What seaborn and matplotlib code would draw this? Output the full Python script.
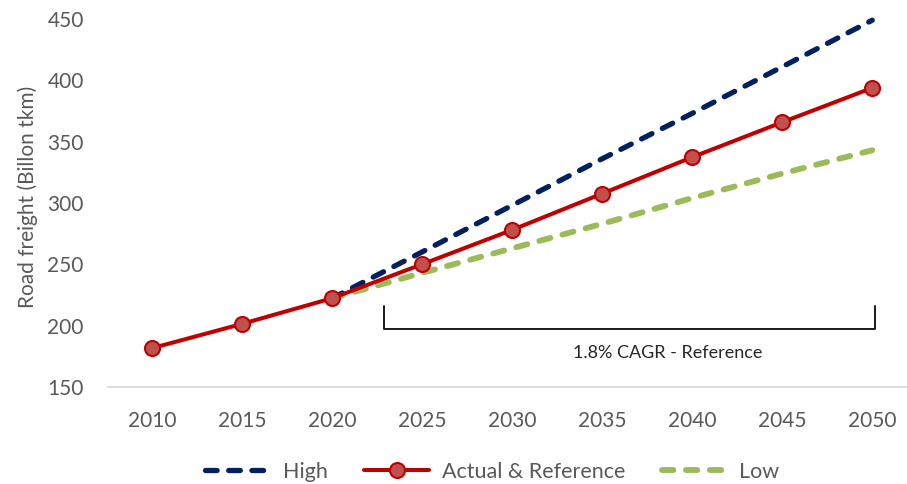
import matplotlib
matplotlib.use("Agg")
import matplotlib.pyplot as plt
import seaborn as sns
import pandas as pd

# Road freight scenarios (billion tonne-km)
years_actual = [2010, 2015, 2020, 2025, 2030, 2035, 2040, 2045, 2050]
reference = [181.6, 201.4, 222.3, 250.0, 278.0, 307.6, 337.3, 365.8, 393.8]

years_scen = [2020, 2025, 2030, 2035, 2040, 2045, 2050]
high = [222.3, 260.0, 298.0, 336.0, 373.0, 411.0, 449.0]
low = [222.3, 243.0, 263.0, 283.0, 304.0, 324.0, 343.0]

x_ticks = [2010, 2015, 2020, 2025, 2030, 2035, 2040, 2045, 2050]
y_ticks = [150, 200, 250, 300, 350, 400, 450]

cagr_label = "1.8% CAGR - Reference"
cagr_span = (2022.9, 2050.15)
cagr_levels = (197.5, 216.0)

sns.set_theme(style="white")
plt.rcParams["font.family"] = ["Lato", "DejaVu Sans"]

TXT = "#595959"

df_ref = pd.DataFrame({"year": years_actual, "value": reference})
df_high = pd.DataFrame({"year": years_scen, "value": high})
df_low = pd.DataFrame({"year": years_scen, "value": low})

fig = plt.figure(figsize=(9.07, 4.84), dpi=100)
ax = fig.add_axes([108 / 907, 1 - 387 / 484, 1 - 108 / 907, (387 - 6.7) / 484])

sns.lineplot(data=df_high, x="year", y="value", ax=ax, color="#002060",
             linewidth=3.8, label="High", zorder=3)
ax.lines[-1].set_dashes([2.2, 2.2])
ax.lines[-1].set_dash_capstyle("round")

sns.lineplot(data=df_ref, x="year", y="value", ax=ax, color="#C00000",
             linewidth=2.9, marker="o", markersize=10.8,
             markerfacecolor="#C0504D", markeredgecolor="#C00000",
             markeredgewidth=1.5, label="Actual & Reference", zorder=4)

sns.lineplot(data=df_low, x="year", y="value", ax=ax, color="#9BBB59",
             linewidth=4.2, label="Low", zorder=3)
ax.lines[-1].set_dashes([1.95, 2.15])
ax.lines[-1].set_dash_capstyle("round")

ax.set_xlim(2007.57, 2051.93)
ax.set_ylim(150, 460)
ax.set_xticks(x_ticks)
ax.set_yticks(y_ticks)
ax.tick_params(axis="both", length=0, labelsize=15, labelcolor=TXT)
ax.tick_params(axis="y", pad=17.5)
ax.tick_params(axis="x", pad=17)
ax.set_xlabel("")
ax.set_ylabel("Road freight (Billon tkm)", fontsize=15, color=TXT, labelpad=7)

for side in ["top", "right", "left"]:
    ax.spines[side].set_visible(False)
ax.spines["bottom"].set_color("#D9D9D9")
ax.spines["bottom"].set_linewidth(1.3)

# Bracket marking the reference CAGR period
x0, x1 = cagr_span
yb, yt = cagr_levels
ax.plot([x0, x0, x1, x1], [yt, yb, yb, yt], color="#1a1a1a", linewidth=1.4,
        solid_joinstyle="round", zorder=2)
ax.text((x0 + x1) / 2 + 2.1, yb - 19.5, cagr_label, ha="center", va="center",
        fontsize=13, color="#262626")

ax.get_legend().remove()
handles, labels = ax.get_legend_handles_labels()
leg = fig.legend(handles, labels, loc="center", bbox_to_anchor=(0.543, 0.025),
                 ncol=3, frameon=False, fontsize=15.5, columnspacing=1.7,
                 handlelength=3.0, handletextpad=0.6)
for t in leg.get_texts():
    t.set_color(TXT)

fig.savefig("out.png", dpi=100)
